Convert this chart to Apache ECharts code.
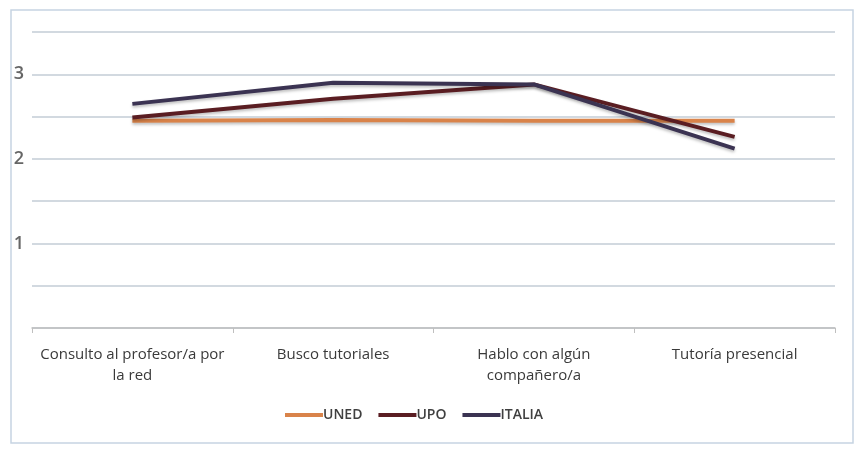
<!DOCTYPE html>
<html><head><meta charset="utf-8">
<script src="https://cdn.jsdelivr.net/npm/echarts@6/dist/echarts.min.js"></script>
<style>html,body{margin:0;padding:0;background:#fff}#c{width:864px;height:452px}</style>
</head><body><div id="c"></div>
<script>
const categories = ["Consulto al profesor/a por\nla red", "Busco tutoriales", "Hablo con algún\ncompañero/a", "Tutoría presencial"];
const uned = [2.45, 2.46, 2.45, 2.45];
const upo = [2.49, 2.71, 2.88, 2.26];
const italia = [2.65, 2.90, 2.88, 2.12];
const seriesNames = ["UNED", "UPO", "ITALIA"];
const colors = ["#d9834a", "#5a1d22", "#3b3352"];

const chart = echarts.init(document.getElementById('c'), null, {renderer: 'canvas'});
const font = '"Open Sans", Lato, sans-serif';
function mk(name, data, color) {
  return {
    name, type: 'line', data, symbol: 'none', smooth: false,
    lineStyle: {width: 4, color, shadowColor: 'rgba(0,0,0,0.25)', shadowBlur: 3, shadowOffsetY: 2},
    itemStyle: {color}
  };
}
chart.setOption({
  animation: false,
  graphic: [{type: 'rect', shape: {x: 11, y: 10, width: 842, height: 433}, style: {fill: 'none', stroke: '#c6d4e2', lineWidth: 1.5}, z: -1}],
  grid: {left: 32, right: 29, top: 32, bottom: 124, containLabel: false},
  legend: {
    top: 403, left: 280, itemWidth: 38, itemHeight: 4, itemGap: 16,
    icon: 'rect',
    textStyle: {fontFamily: font, fontSize: 14, fontWeight: 600, color: '#404040', padding: [0, 0, 0, -5]},
    data: seriesNames
  },
  xAxis: {
    type: 'category', data: categories, boundaryGap: true,
    axisLine: {lineStyle: {color: '#bfbfbf', width: 1.5}},
    axisTick: {show: true, alignWithLabel: false, length: 5, lineStyle: {color: '#bfbfbf'}},
    axisLabel: {fontFamily: font, fontSize: 15, color: '#3a3a3a', lineHeight: 21, margin: 16, interval: 0}
  },
  yAxis: {
    type: 'value', min: 0, max: 3.5, interval: 0.5,
    axisLine: {show: false}, axisTick: {show: false},
    splitLine: {lineStyle: {color: '#c3ccd6', width: 1.5}},
    axisLabel: {
      fontFamily: font, fontSize: 18, fontWeight: 600, color: '#666666', margin: 8,
      formatter: v => (v > 0 && v < 3.5 && Math.abs(v - Math.round(v)) < 1e-9) ? String(v) : ''
    }
  },
  series: [mk(seriesNames[0], uned, colors[0]), mk(seriesNames[1], upo, colors[1]), mk(seriesNames[2], italia, colors[2])]
});
</script></body></html>
